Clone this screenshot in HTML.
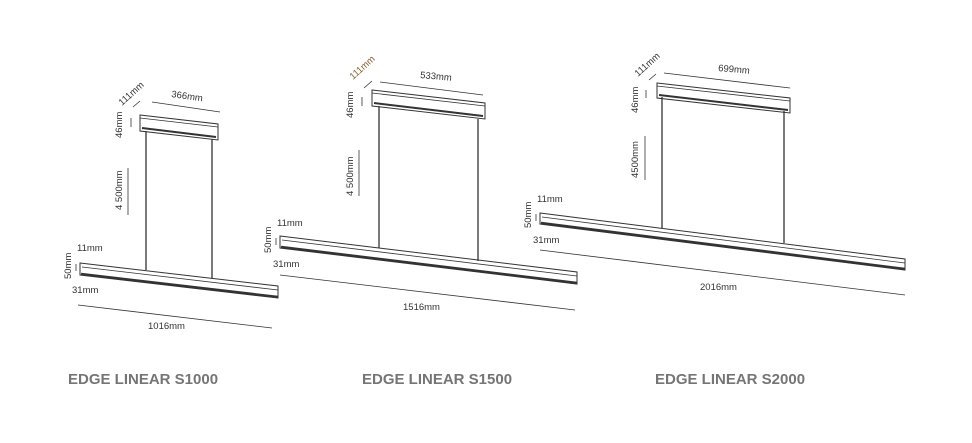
<!DOCTYPE html>
<html><head><meta charset="utf-8"><style>
html,body{margin:0;padding:0;background:#fff;width:972px;height:443px;overflow:hidden}
svg text{font-family:"Liberation Sans",sans-serif;fill:#333}
.d{font-size:9.5px}
.t{font-size:15px;font-weight:bold;fill:#757575}
</style></head><body>
<svg width="972" height="443" viewBox="0 0 972 443" xmlns="http://www.w3.org/2000/svg">
<g stroke="#333" fill="none">
<!-- Fixture 1 -->
<path d="M80,263 L278,286 L278,298 L80,275 Z" stroke-width="1"/>
<path d="M82,267 L278,290" stroke-width="0.8"/>
<path d="M81,274 L278,297" stroke-width="2.5"/>
<line x1="146" y1="131" x2="146" y2="270" stroke-width="1.3"/>
<line x1="212" y1="139" x2="212" y2="278" stroke-width="1.3"/>
<path d="M140,115 L218,124 L218,140 L140,131 Z" stroke-width="1"/>
<path d="M140,118 L218,127" stroke-width="0.8"/>
<path d="M142,128 L216,137" stroke-width="2"/>
<line x1="152" y1="102" x2="220" y2="112" stroke-width="0.8"/>
<line x1="133" y1="107" x2="140" y2="101" stroke-width="0.8"/>
<line x1="131" y1="118" x2="131" y2="127" stroke-width="0.8"/>
<line x1="128" y1="168" x2="128" y2="215" stroke-width="0.8"/>
<line x1="78" y1="305" x2="272" y2="328" stroke-width="0.8"/>
<line x1="76" y1="264" x2="76" y2="271" stroke-width="0.8"/>
<!-- Fixture 2 -->
<path d="M280,236 L577,272 L577,284 L280,248 Z" stroke-width="1"/>
<path d="M282,240 L577,276" stroke-width="0.8"/>
<path d="M281,247 L577,283" stroke-width="2.5"/>
<line x1="379" y1="106" x2="379" y2="248" stroke-width="1.3"/>
<line x1="478" y1="119" x2="478" y2="261" stroke-width="1.3"/>
<path d="M372,90 L485,103 L485,119 L372,106 Z" stroke-width="1"/>
<path d="M372,93 L485,106" stroke-width="0.8"/>
<path d="M374,103 L483,116" stroke-width="2"/>
<line x1="380" y1="82" x2="483" y2="95" stroke-width="0.8"/>
<line x1="364" y1="88" x2="372" y2="81" stroke-width="0.8"/>
<line x1="362" y1="97" x2="362" y2="106" stroke-width="0.8"/>
<line x1="359" y1="150" x2="359" y2="196" stroke-width="0.8"/>
<line x1="280" y1="275" x2="575" y2="310" stroke-width="0.8"/>
<line x1="276" y1="238" x2="276" y2="245" stroke-width="0.8"/>
<!-- Fixture 3 -->
<path d="M540,213 L905,259 L905,270 L540,224 Z" stroke-width="1"/>
<path d="M542,217 L905,263" stroke-width="0.8"/>
<path d="M541,223 L905,269" stroke-width="2.5"/>
<line x1="662" y1="97" x2="662" y2="228" stroke-width="1.3"/>
<line x1="784" y1="111" x2="784" y2="243" stroke-width="1.3"/>
<path d="M657,83 L790,98 L790,113 L657,98 Z" stroke-width="1"/>
<path d="M657,86 L790,101" stroke-width="0.8"/>
<path d="M659,95 L788,110" stroke-width="2"/>
<line x1="664" y1="73" x2="790" y2="88" stroke-width="0.8"/>
<line x1="649" y1="80" x2="656" y2="74" stroke-width="0.8"/>
<line x1="646" y1="90" x2="646" y2="98" stroke-width="0.8"/>
<line x1="645" y1="136" x2="645" y2="180" stroke-width="0.8"/>
<line x1="540" y1="250" x2="905" y2="295" stroke-width="0.8"/>
<line x1="536" y1="214" x2="536" y2="221" stroke-width="0.8"/>
</g>
<!-- labels 1 -->
<text class="d" x="171" y="97" transform="rotate(8 171 97)">366mm</text>
<text class="d" x="122" y="106" transform="rotate(-42 122 106)">111mm</text>
<text class="d" x="122" y="138" transform="rotate(-90 122 138)">46mm</text>
<text class="d" x="122" y="210" transform="rotate(-90 122 210)">4 500mm</text>
<text class="d" x="77" y="251">11mm</text>
<text class="d" x="71" y="279" transform="rotate(-90 71 279)">50mm</text>
<text class="d" x="72" y="293">31mm</text>
<text class="d" x="148" y="329">1016mm</text>
<!-- labels 2 -->
<text class="d" x="420" y="78" transform="rotate(5 420 78)">533mm</text>
<text class="d" x="353" y="80" transform="rotate(-42 353 80)" style="fill:#8a5a2a">111mm</text>
<text class="d" x="353" y="118" transform="rotate(-90 353 118)">46mm</text>
<text class="d" x="353" y="196" transform="rotate(-90 353 196)">4 500mm</text>
<text class="d" x="277" y="226">11mm</text>
<text class="d" x="271" y="253" transform="rotate(-90 271 253)">50mm</text>
<text class="d" x="273" y="267">31mm</text>
<text class="d" x="403" y="310">1516mm</text>
<!-- labels 3 -->
<text class="d" x="718" y="71" transform="rotate(5 718 71)">699mm</text>
<text class="d" x="638" y="77" transform="rotate(-42 638 77)">111mm</text>
<text class="d" x="638" y="113" transform="rotate(-90 638 113)">46mm</text>
<text class="d" x="638" y="178" transform="rotate(-90 638 178)">4500mm</text>
<text class="d" x="537" y="202">11mm</text>
<text class="d" x="531" y="228" transform="rotate(-90 531 228)">50mm</text>
<text class="d" x="533" y="243">31mm</text>
<text class="d" x="700" y="290">2016mm</text>
<!-- titles -->
<text class="t" x="68" y="384">EDGE LINEAR S1000</text>
<text class="t" x="362" y="384">EDGE LINEAR S1500</text>
<text class="t" x="655" y="384">EDGE LINEAR S2000</text>
</svg>
</body></html>
